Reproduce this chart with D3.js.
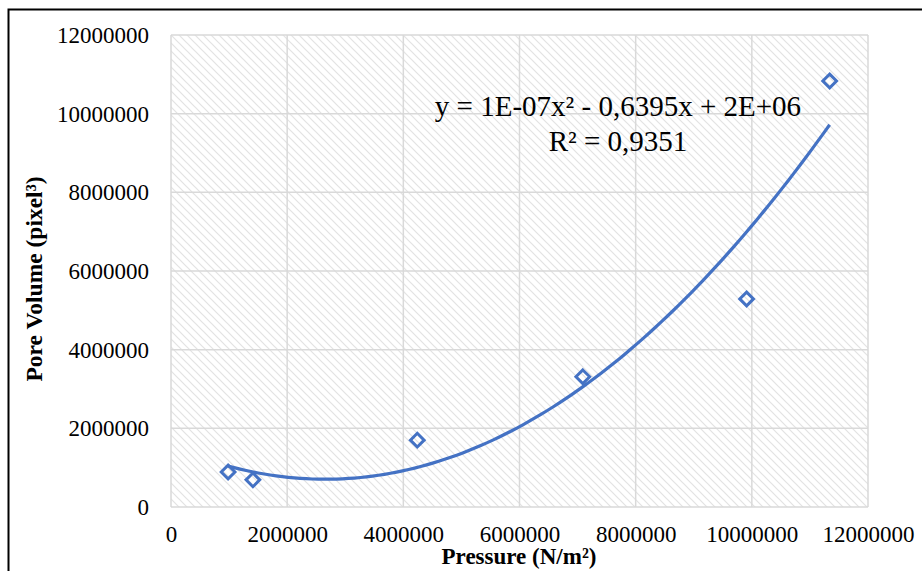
<!DOCTYPE html>
<html>
<head>
<meta charset="utf-8">
<script src="https://cdn.jsdelivr.net/npm/d3@7"></script>
<style>
  body { margin: 0; background: #fff; }
  text { font-family: "Liberation Serif", "Times New Roman", serif; fill: #000; }
</style>
</head>
<body>
<div id="chart"></div>
<script>
// measured data points (pressure, pore volume)
var pressure = [983000, 1410000, 4240000, 7090000, 9910000, 11340000];
var poreVolume = [890000, 690000, 1700000, 3310000, 5290000, 10830000];
var xTicks = [0, 2000000, 4000000, 6000000, 8000000, 10000000, 12000000];
var yTicks = [0, 2000000, 4000000, 6000000, 8000000, 10000000, 12000000];
var trendText = ["y = 1E-07x\u00B2 - 0,6395x + 2E+06", "R\u00B2 = 0,9351"];

var W = 922, H = 571;
var margin = {top: 35, right: 54, bottom: 64, left: 171};
var w = W - margin.left - margin.right;
var h = H - margin.top - margin.bottom;
var serif = "'Liberation Serif', 'Times New Roman', serif";

var svg = d3.select("#chart").append("svg")
  .attr("width", W).attr("height", H);

// chart border (runs off right/bottom)
svg.append("rect")
  .attr("x", 8.5).attr("y", 9.5)
  .attr("width", 1000).attr("height", 1000)
  .attr("fill", "none").attr("stroke", "#000").attr("stroke-width", 2);

// hatched pattern for plot area
var defs = svg.append("defs");
var pat = defs.append("pattern")
  .attr("id", "hatch").attr("patternUnits", "userSpaceOnUse")
  .attr("width", 8).attr("height", 8);
pat.append("rect").attr("width", 8).attr("height", 8).attr("fill", "#fff");
pat.append("path")
  .attr("d", "M-2,-2 L10,10 M-2,6 L2,10 M6,-2 L10,2")
  .attr("stroke", "#e3e3e3").attr("stroke-width", 1.2);

var g = svg.append("g")
  .attr("transform", "translate(" + margin.left + "," + margin.top + ")");

var x = d3.scaleLinear().domain([0, 12000000]).range([0, w]);
var y = d3.scaleLinear().domain([0, 12000000]).range([h, 0]);

g.append("rect").attr("width", w).attr("height", h).attr("fill", "url(#hatch)");

// gridlines
g.selectAll(".gx").data(xTicks).enter().append("line")
  .attr("x1", function(d) { return x(d); }).attr("x2", function(d) { return x(d); })
  .attr("y1", 0).attr("y2", h)
  .attr("stroke", "#d9d9d9").attr("stroke-width", 1.5);
g.selectAll(".gy").data(yTicks).enter().append("line")
  .attr("y1", function(d) { return y(d); }).attr("y2", function(d) { return y(d); })
  .attr("x1", 0).attr("x2", w)
  .attr("stroke", "#d9d9d9").attr("stroke-width", 1.5);

// axes (labels only)
var xAxis = d3.axisBottom(x).tickValues(xTicks).tickSize(0).tickPadding(19)
  .tickFormat(d3.format("d"));
var yAxis = d3.axisLeft(y).tickValues(yTicks).tickSize(0).tickPadding(22)
  .tickFormat(d3.format("d"));

var gx = g.append("g").attr("transform", "translate(0," + h + ")").call(xAxis);
var gy = g.append("g").call(yAxis);
[gx, gy].forEach(function(a) {
  a.attr("font-family", serif).attr("font-size", 23);
  a.select(".domain").remove();
  a.selectAll("text").attr("fill", "#000");
});

// polynomial (order 2) least squares trendline, as the spreadsheet does
function polyFit(xs, ys) {
  var n = xs.length, s = [0, 0, 0, 0, 0], t = [0, 0, 0];
  var sc = 1e6;
  for (var i = 0; i < n; i++) {
    var xv = xs[i] / sc, p = 1;
    for (var k = 0; k < 5; k++) { s[k] += p; if (k < 3) t[k] += p * ys[i]; p *= xv; }
  }
  var A = [[s[0], s[1], s[2], t[0]], [s[1], s[2], s[3], t[1]], [s[2], s[3], s[4], t[2]]];
  for (var c = 0; c < 3; c++) {
    for (var r = c + 1; r < 3; r++) {
      var f = A[r][c] / A[c][c];
      for (var j = c; j < 4; j++) A[r][j] -= f * A[c][j];
    }
  }
  var coef = [0, 0, 0];
  for (var r2 = 2; r2 >= 0; r2--) {
    var v = A[r2][3];
    for (var j2 = r2 + 1; j2 < 3; j2++) v -= A[r2][j2] * coef[j2];
    coef[r2] = v / A[r2][r2];
  }
  return function(xv) { var u = xv / sc; return coef[0] + coef[1] * u + coef[2] * u * u; };
}
var fit = polyFit(pressure, poreVolume);
var xMin = d3.min(pressure), xMax = d3.max(pressure);
var curve = d3.range(0, 101).map(function(i) {
  var xv = xMin + (xMax - xMin) * i / 100;
  return [xv, fit(xv)];
});
g.append("path")
  .datum(curve)
  .attr("fill", "none").attr("stroke", "#4472c4").attr("stroke-width", 3.2)
  .attr("d", d3.line().x(function(d) { return x(d[0]); }).y(function(d) { return y(d[1]); }));

// markers
g.selectAll(".pt").data(pressure).enter().append("path")
  .attr("transform", function(d, i) { return "translate(" + x(d) + "," + y(poreVolume[i]) + ")"; })
  .attr("d", d3.symbol().type(d3.symbolDiamond2).size(120))
  .attr("fill", "none").attr("stroke", "#4472c4").attr("stroke-width", 3);

// trendline label
g.append("text").attr("x", 618 - margin.left).attr("y", 116 - margin.top)
  .attr("text-anchor", "middle").style("font-size", "29px").text(trendText[0]);
g.append("text").attr("x", 618 - margin.left).attr("y", 151 - margin.top)
  .attr("text-anchor", "middle").style("font-size", "29px").text(trendText[1]);

// axis titles
svg.append("text")
  .attr("x", 519).attr("y", 564)
  .attr("text-anchor", "middle")
  .style("font-size", "23px").style("font-weight", "bold")
  .text("Pressure (N/m\u00B2)");
svg.append("text")
  .attr("transform", "translate(42,279) rotate(-90)")
  .attr("text-anchor", "middle")
  .style("font-size", "23.5px").style("font-weight", "bold")
  .text("Pore Volume (pixel\u00B3)");
</script>
</body>
</html>
